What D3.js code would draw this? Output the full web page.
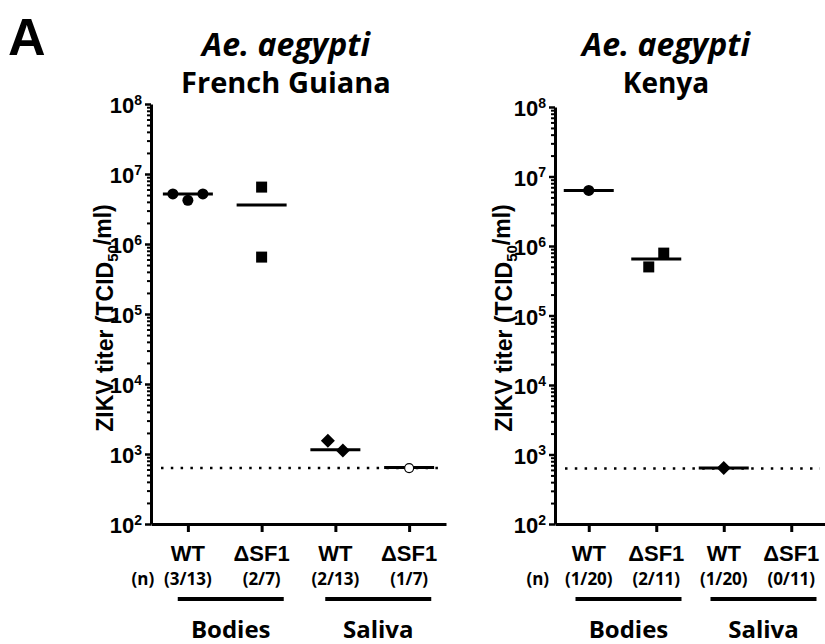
<!DOCTYPE html>
<html>
<head>
<meta charset="utf-8">
<script src="https://cdn.jsdelivr.net/npm/d3@7"></script>
<style>
  body { margin: 0; background: #fff; }
  text { fill: #000; }
</style>
</head>
<body>
<div id="chart"></div>
<script>
// data
var categories = ["WT", "\u0394SF1", "WT", "\u0394SF1"];
var groupKeys = ["WT-B", "SF1-B", "WT-S", "SF1-S"];
var tissues = ["Bodies", "Saliva"];
var yTicks = [1e2, 1e3, 1e4, 1e5, 1e6, 1e7, 1e8];
var lod = 630;

var fgTitle = "French Guiana";
var fgCounts = ["(3/13)", "(2/7)", "(2/13)", "(1/7)"];
var fgValues = [[5.2e6, 4.2e6, 5.2e6], [6.5e6, 6.5e5], [1.55e3, 1.12e3], [630]];
var fgMedians = [5.2e6, 3.6e6, 1.15e3, 640];

var keTitle = "Kenya";
var keCounts = ["(1/20)", "(2/11)", "(1/20)", "(0/11)"];
var keValues = [[6.3e6], [5.0e5, 7.9e5], [640], []];
var keMedians = [6.3e6, 6.5e5, 640, null];

var shapes = ["circle", "square", "diamond", "open"];

var ARIAL = "'Liberation Sans', Arial, sans-serif";
var CALIBRI = "'Open Sans', sans-serif";

var svg = d3.select("#chart").append("svg")
    .attr("width", 825)
    .attr("height", 644);

svg.append("text")
    .attr("x", 8).attr("y", 55)
    .style("font-family", ARIAL)
    .style("font-weight", "bold")
    .style("font-size", "52px")
    .text("A");

function drawPanel(opt) {
    var g = svg.append("g");

    var y = d3.scaleLog().domain([1e2, 1e8]).range([524, opt.top]);
    var x = d3.scalePoint().domain(groupKeys).range([opt.left, opt.right]).padding(0.5);

    // titles
    g.append("text")
        .attr("x", opt.titleX).attr("y", 56)
        .attr("text-anchor", "middle")
        .style("font-family", CALIBRI)
        .style("font-weight", "bold")
        .style("font-style", "italic")
        .style("font-size", "32px")
        .text("Ae. aegypti");
    g.append("text")
        .attr("x", opt.titleX).attr("y", 93)
        .attr("text-anchor", "middle")
        .style("font-family", CALIBRI)
        .style("font-weight", "bold")
        .style("font-size", opt.titleSize + "px")
        .text(opt.title);

    // minor ticks
    var minor = [];
    for (var e = 2; e < 8; e++) {
        for (var m = 2; m < 10; m++) minor.push(m * Math.pow(10, e));
    }
    var minorAxis = g.append("g")
        .attr("transform", "translate(" + opt.left + ",0)")
        .call(d3.axisLeft(y).tickValues(minor).tickSize(4).tickFormat(""));
    minorAxis.select(".domain").remove();
    minorAxis.selectAll("line").attr("stroke", "#000").attr("stroke-width", 2);

    // major ticks
    var yAxis = g.append("g")
        .attr("transform", "translate(" + opt.left + ",0)")
        .call(d3.axisLeft(y).tickValues(yTicks).tickSize(6).tickSizeOuter(0).tickPadding(3));
    yAxis.select(".domain").attr("stroke", "#000").attr("stroke-width", 3);
    yAxis.selectAll("line").attr("stroke", "#000").attr("stroke-width", 2.5);
    yAxis.selectAll("text")
        .style("font-family", ARIAL)
        .style("font-weight", "bold")
        .style("font-size", "22px")
        .attr("dy", "0.4em")
        .each(function(d) {
            var t = d3.select(this).text("");
            t.append("tspan").text("10");
            t.append("tspan").attr("dy", "-0.6em").style("font-size", "14px")
                .text(Math.round(Math.log10(d)));
        });

    // x axis
    var xAxis = g.append("g")
        .attr("transform", "translate(0,524)")
        .call(d3.axisBottom(x).tickSize(8).tickSizeOuter(0).tickFormat(""));
    xAxis.select(".domain").attr("stroke", "#000").attr("stroke-width", 3);
    xAxis.selectAll("line").attr("stroke", "#000").attr("stroke-width", 3);

    // y axis title
    var yl = g.append("text")
        .attr("transform", "translate(" + opt.ylabelX + ",318) rotate(-90)")
        .attr("text-anchor", "middle")
        .style("font-family", ARIAL)
        .style("font-weight", "bold")
        .style("font-size", "23px");
    yl.append("tspan").text("ZIKV titer (TCID");
    yl.append("tspan").attr("dy", "0.3em").style("font-size", "15px").text("50");
    yl.append("tspan").attr("dy", "-0.3em").text("/ml)");

    // category labels
    g.selectAll(".cat").data(groupKeys).enter().append("text")
        .attr("x", function(d) { return x(d); })
        .attr("y", 561)
        .attr("text-anchor", "middle")
        .style("font-family", ARIAL)
        .style("font-weight", "bold")
        .style("font-size", "22px")
        .text(function(d, i) { return categories[i]; });

    g.selectAll(".cnt").data(groupKeys).enter().append("text")
        .attr("x", function(d) { return x(d); })
        .attr("y", 585)
        .attr("text-anchor", "middle")
        .style("font-family", CALIBRI)
        .style("font-weight", "bold")
        .style("font-size", "17px")
        .text(function(d, i) { return opt.counts[i]; });

    g.append("text")
        .attr("x", x(groupKeys[0]) - opt.nOffset)
        .attr("y", 585)
        .attr("text-anchor", "middle")
        .style("font-family", CALIBRI)
        .style("font-weight", "bold")
        .style("font-size", "17px")
        .text("(n)");

    // tissue bars and labels
    tissues.forEach(function(t, i) {
        var x0 = x(groupKeys[i * 2]), x1 = x(groupKeys[i * 2 + 1]);
        var cx = (x0 + x1) / 2 + 6;
        g.append("line")
            .attr("x1", cx - 53).attr("x2", cx + 53)
            .attr("y1", 599).attr("y2", 599)
            .attr("stroke", "#000").attr("stroke-width", 4);
        g.append("text")
            .attr("x", cx).attr("y", 638)
            .attr("text-anchor", "middle")
            .style("font-family", CALIBRI)
            .style("font-weight", "bold")
            .style("font-size", "24px")
            .text(t);
    });

    // limit of detection
    g.append("line")
        .attr("x1", opt.left + 10).attr("x2", opt.right - 5)
        .attr("y1", y(lod)).attr("y2", y(lod))
        .attr("stroke", "#000").attr("stroke-width", 2.5)
        .attr("stroke-dasharray", "2.5,7.3");

    // median lines
    opt.medians.forEach(function(d, i) {
        if (d == null) return;
        g.append("line")
            .attr("x1", x(groupKeys[i]) - 25)
            .attr("x2", x(groupKeys[i]) + 25)
            .attr("y1", y(d)).attr("y2", y(d))
            .attr("stroke", "#000").attr("stroke-width", 3);
    });

    // points
    opt.values.forEach(function(vals, gi) {
        var ys = vals.map(function(v) { return y(v); });
        var spread = ys.length > 1 && (d3.max(ys) - d3.min(ys)) < 30;
        vals.forEach(function(v, i) {
            var off = spread ? (i - (vals.length - 1) / 2) * (15 / Math.max(1, vals.length - 2)) : 0;
            var px = x(groupKeys[gi]) + off, py = y(v);
            var s = shapes[gi];
            if (s === "circle") {
                g.append("circle").attr("cx", px).attr("cy", py).attr("r", 5.5).attr("fill", "#000");
            } else if (s === "square") {
                g.append("rect").attr("x", px - 5.5).attr("y", py - 5.5)
                    .attr("width", 11).attr("height", 11).attr("fill", "#000");
            } else if (s === "diamond") {
                g.append("path")
                    .attr("d", "M" + px + "," + (py - 7) + "L" + (px + 7) + "," + py +
                        "L" + px + "," + (py + 7) + "L" + (px - 7) + "," + py + "Z")
                    .attr("fill", "#000");
            } else {
                g.append("circle").attr("cx", px).attr("cy", py).attr("r", 4.5)
                    .attr("fill", "#fff").attr("stroke", "#000").attr("stroke-width", 1.2);
            }
        });
    });
}

drawPanel({
    left: 151, right: 446, top: 104, titleX: 286, ylabelX: 113, titleSize: 29,
    title: fgTitle, counts: fgCounts, values: fgValues, medians: fgMedians, nOffset: 45
});
drawPanel({
    left: 555, right: 825, top: 107, titleX: 666, ylabelX: 512, titleSize: 28,
    title: keTitle, counts: keCounts, values: keValues, medians: keMedians, nOffset: 51
});
</script>
</body>
</html>
